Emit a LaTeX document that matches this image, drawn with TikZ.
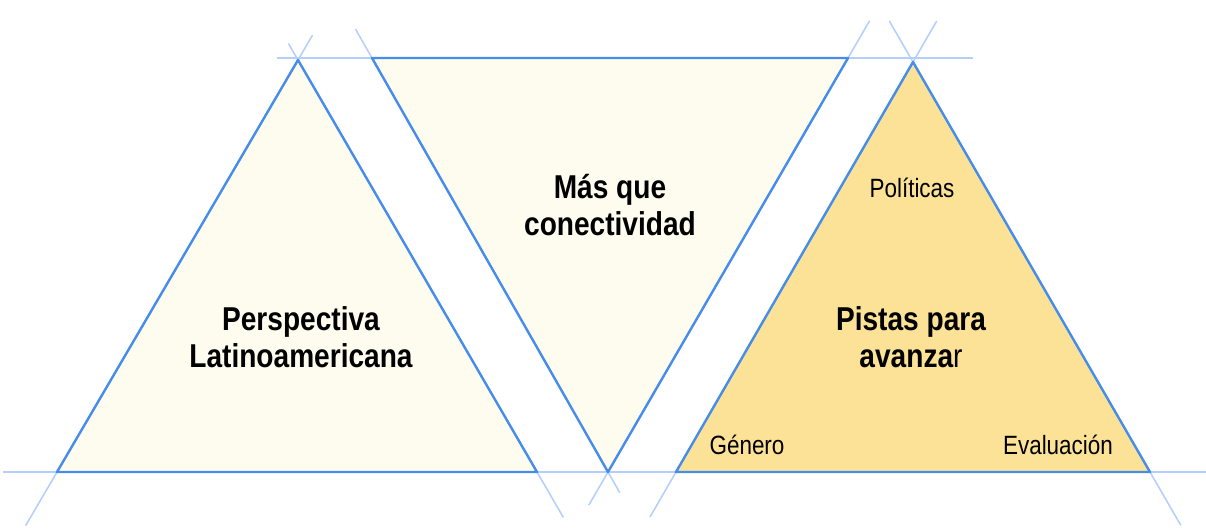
\documentclass[tikz,border=0pt]{standalone}
\usepackage{fontspec}
\setmainfont{Liberation Sans}[FakeStretch=0.85]
\usetikzlibrary{calc}
\definecolor{azul}{RGB}{70,140,235}
\definecolor{azulclaro}{RGB}{180,208,250}
\definecolor{amarillo}{RGB}{252,226,150}
\definecolor{crema}{RGB}{253,252,238}

\begin{document}
\begin{tikzpicture}[x=0.025cm, y=-0.025cm,
    lado/.style={azul, line width=1.7pt, line join=round},
    prolongacion/.style={azulclaro, line width=1.1pt},
    titulo/.style={font=\fontsize{23.5}{26.3}\selectfont\bfseries, align=center},
    etiqueta/.style={font=\fontsize{18.8}{22}\selectfont}]
    \useasboundingbox (0,0) rectangle (1206,529);

    % Vértices de los triángulos
    \coordinate (A1) at (298,60);  \coordinate (B1) at (57,472);  \coordinate (C1) at (537,472);
    \coordinate (A2) at (372,58);  \coordinate (B2) at (848,58);  \coordinate (C2) at (608,472);
    \coordinate (A3) at (913,62);  \coordinate (B3) at (676,472); \coordinate (C3) at (1150,472);

    % Extremos de las líneas horizontales
    \coordinate (T0) at (277,58);  \coordinate (T1) at (973,58);
    \coordinate (H0) at (3,472);   \coordinate (H1) at (1206,472);

    % Rellenos
    \fill[crema] (A1) -- (B1) -- (C1) -- cycle;
    \fill[crema] (A2) -- (B2) -- (C2) -- cycle;
    \fill[amarillo] (A3) -- (B3) -- (C3) -- cycle;

    % Líneas horizontales
    \draw[prolongacion] (T0) -- (T1);
    \draw[prolongacion] (H0) -- (H1);

    % Prolongaciones de los lados
    \draw[prolongacion] ($(A1)!-0.06!(B1)$) -- ($(B1)!-0.13!(A1)$);
    \draw[prolongacion] ($(A1)!-0.04!(C1)$) -- ($(C1)!-0.11!(A1)$);
    \draw[prolongacion] ($(A2)!-0.07!(C2)$) -- ($(C2)!-0.05!(A2)$);
    \draw[prolongacion] ($(B2)!-0.09!(C2)$) -- ($(C2)!-0.08!(B2)$);
    \draw[prolongacion] ($(A3)!-0.10!(B3)$) -- ($(B3)!-0.11!(A3)$);
    \draw[prolongacion] ($(A3)!-0.10!(C3)$) -- ($(C3)!-0.13!(A3)$);

    % Lados
    \draw[lado] (A1) -- (B1) -- (C1) -- cycle;
    \draw[lado] (A2) -- (B2) -- (C2) -- cycle;
    \draw[lado] (A3) -- (B3) -- (C3) -- cycle;

    % Textos
    \node[titulo] (perspectiva) at (301,337) {Perspectiva\\Latinoamericana};
    \node[titulo] (conectividad) at (610,205) {Más que\\conectividad};
    \node[titulo] (pistas) at (911,337) {Pistas para\\avanza{\mdseries r}};
    \node[etiqueta] (politicas) at (912,188) {Políticas};
    \node[etiqueta] (genero) at (747,445) {Género};
    \node[etiqueta] (evaluacion) at (1058,445) {Evaluación};

\end{tikzpicture}
\end{document}
